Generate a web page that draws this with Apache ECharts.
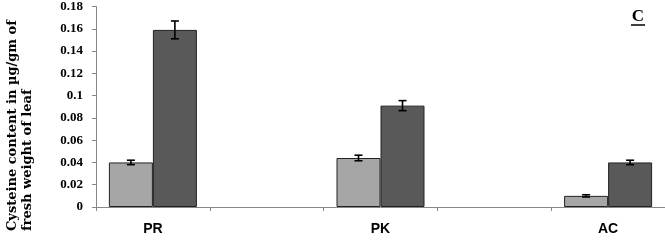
<!DOCTYPE html>
<html><head><meta charset="utf-8">
<script src="https://cdn.jsdelivr.net/npm/echarts@6/dist/echarts.min.js"></script>
<style>html,body{margin:0;padding:0;background:#fff}#c{width:665px;height:241px}</style>
</head><body><div id="c"></div>
<script>
var categories = ['PR', '', 'PK', '', 'AC'];
var lightValues = [0.040, null, 0.044, null, 0.010];
var darkValues = [0.159, null, 0.091, null, 0.040];
var lightErrors = [0.002, null, 0.0025, null, 0.001];
var darkErrors = [0.008, null, 0.0045, null, 0.002];
var yTicks = { min: 0, max: 0.18, interval: 0.02 };
var yTitle1 = 'Cysteine content in µg/gm of';
var yTitle2 = 'fresh weight of leaf';
var panelLabel = 'C';

function errData(vals, errs) {
  var out = [];
  for (var i = 0; i < vals.length; i++) {
    if (vals[i] != null) out.push([i, vals[i], errs[i]]);
  }
  return out;
}
function errSeries(vals, errs, offset) {
  return {
    type: 'custom', z: 10,
    data: errData(vals, errs),
    renderItem: function (params, api) {
      var i = api.value(0), v = api.value(1), e = api.value(2);
      var top = api.coord([i, v + e]);
      var bot = api.coord([i, v - e]);
      var x = top[0] + offset, hw = 4;
      var st = { stroke: '#000', lineWidth: 1.6 };
      return { type: 'group', children: [
        { type: 'line', shape: { x1: x, y1: top[1], x2: x, y2: bot[1] }, style: st },
        { type: 'line', shape: { x1: x - hw, y1: top[1], x2: x + hw, y2: top[1] }, style: st },
        { type: 'line', shape: { x1: x - hw, y1: bot[1], x2: x + hw, y2: bot[1] }, style: st }
      ]};
    }
  };
}

var chart = echarts.init(document.getElementById('c'), null, { renderer: 'canvas' });
chart.setOption({
  animation: false,
  backgroundColor: '#fff',
  grid: { left: 96, right: 0, top: 4.5, bottom: 34 },
  xAxis: {
    type: 'category', data: categories,
    axisLine: { lineStyle: { color: '#888', width: 1 } },
    axisTick: { show: true, length: 4, lineStyle: { color: '#888' } },
    axisLabel: { margin: 15, color: '#000', fontFamily: 'Liberation Sans', fontWeight: 'bold', fontSize: 14 }
  },
  yAxis: {
    type: 'value', min: yTicks.min, max: yTicks.max, interval: yTicks.interval,
    splitLine: { show: false },
    axisLine: { show: true, lineStyle: { color: '#888', width: 1 } },
    axisTick: { show: true, length: 4, lineStyle: { color: '#888' } },
    axisLabel: { margin: 13, color: '#000', fontFamily: 'Liberation Serif', fontWeight: 'bold', fontSize: 13 }
  },
  series: [
    { type: 'bar', data: lightValues, barWidth: 44, barGap: '0%',
      itemStyle: { color: '#a6a6a6', borderColor: '#222', borderWidth: 1 } },
    { type: 'bar', data: darkValues, barWidth: 44, barGap: '0%',
      itemStyle: { color: '#595959', borderColor: '#222', borderWidth: 1 } },
    errSeries(lightValues, lightErrors, -22),
    errSeries(darkValues, darkErrors, 22)
  ],
  graphic: [
    { type: 'text', x: 13, y: 231, rotation: Math.PI / 2,
      style: { text: yTitle1, fontFamily: 'DejaVu Serif', fontWeight: 'bold', fontSize: 13, fill: '#000', align: 'left', verticalAlign: 'middle' } },
    { type: 'text', x: 28, y: 231, rotation: Math.PI / 2,
      style: { text: yTitle2, fontFamily: 'DejaVu Serif', fontWeight: 'bold', fontSize: 13, fill: '#000', align: 'left', verticalAlign: 'middle' } },
    { type: 'text', x: 638, y: 17,
      style: { text: panelLabel, fontFamily: 'Liberation Serif', fontWeight: 'bold', fontSize: 17, fill: '#000', align: 'center', verticalAlign: 'middle' } },
    { type: 'line', shape: { x1: 631, y1: 25, x2: 645, y2: 25 }, style: { stroke: '#000', lineWidth: 1.5 } }
  ]
});
</script></body></html>
